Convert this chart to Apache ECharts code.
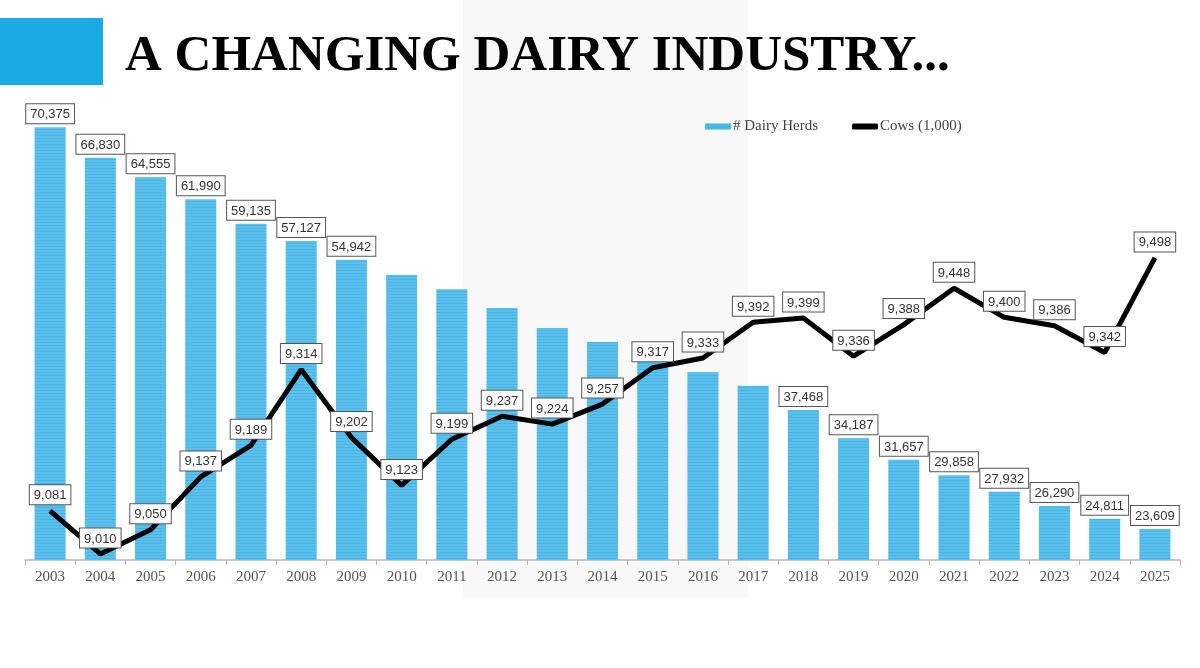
<!DOCTYPE html>
<html>
<head>
<meta charset="utf-8">
<script src="https://cdn.jsdelivr.net/npm/echarts@6/dist/echarts.min.js"></script>
<style>
html,body{margin:0;padding:0;background:#fff;}
#chart{width:1200px;height:668px;}
</style>
</head>
<body>
<div id="chart"></div>
<script>
// ---- data ----
const years = ['2003','2004','2005','2006','2007','2008','2009','2010','2011','2012','2013','2014','2015','2016','2017','2018','2019','2020','2021','2022','2023','2024','2025'];
const dairyHerds = [70375,66830,64555,61990,59135,57127,54942,53180,51510,49340,47010,45380,43500,41850,40290,37468,34187,31657,29858,27932,26290,24811,23609];
// years whose herd value is printed in the reference
const herdLabelYears = ['2003','2004','2005','2006','2007','2008','2009','2018','2019','2020','2021','2022','2023','2024','2025'];
const cows = [9081,9010,9050,9137,9189,9314,9202,9123,9199,9237,9224,9257,9317,9333,9392,9399,9336,9388,9448,9400,9386,9342,9498];
const titleText = 'A CHANGING DAIRY INDUSTRY...';
const seriesNames = ['# Dairy Herds','Cows (1,000)'];

const fmt = v => v.toLocaleString('en-US');

const boxLabel = {
  fontFamily: 'Liberation Sans, Arial, sans-serif',
  fontSize: 13,
  color: '#333',
  backgroundColor: '#fff',
  borderColor: '#555',
  borderWidth: 1,
  padding: [3, 4, 1, 4],
  lineHeight: 15
};

const barData = dairyHerds.map((v, i) => ({
  value: v,
  label: { show: herdLabelYears.includes(years[i]) }
}));

const chart = echarts.init(document.getElementById('chart'));
chart.setOption({
  backgroundColor: '#ffffff',
  animation: false,
  graphic: [
    { type: 'rect', z: -10, silent: true, shape: { x: 463, y: 0, width: 285, height: 597 }, style: { fill: '#f8f8f8' } },
    { type: 'rect', z: 10, shape: { x: 0, y: 18, width: 103, height: 67 }, style: { fill: '#1ca9e1' } },
    { type: 'text', z: 10, style: { x: 125, y: 57, text: titleText, fill: '#000', font: 'bold 51px "Liberation Serif", "Times New Roman", serif', textVerticalAlign: 'middle' } }
  ],
  legend: {
    left: 700, top: 114,
    itemWidth: 26, itemHeight: 6, itemGap: 34,
    textStyle: { fontFamily: 'Liberation Serif, serif', fontSize: 15, color: '#444', padding: [0,0,0,-3] },
    data: [
      { name: seriesNames[0], icon: 'rect', itemStyle: { color: '#4fb9e8' } },
      { name: seriesNames[1], icon: 'roundRect', itemStyle: { color: '#000' } }
    ]
  },
  grid: { left: 25, right: 20, top: 105, bottom: 108 },
  xAxis: {
    type: 'category', data: years, boundaryGap: true,
    axisLine: { lineStyle: { color: '#b5b5b5', width: 1.5 } },
    axisTick: { show: true, length: 5, lineStyle: { color: '#b5b5b5' } },
    axisLabel: { fontFamily: 'Liberation Serif, serif', fontSize: 15, color: '#555', margin: 10 }
  },
  yAxis: [
    { type: 'value', min: 20000, max: 72970, show: false, splitLine: { show: false } },
    { type: 'value', min: 9000, max: 9750, show: false, splitLine: { show: false } }
  ],
  series: [
    {
      name: seriesNames[0], type: 'bar', yAxisIndex: 0, barWidth: 31,
      data: barData,
      itemStyle: {
        color: '#5cc0ec',
        decal: { symbol: 'rect', symbolSize: 1, dashArrayX: [1, 0], dashArrayY: [1, 2], rotation: 0, color: 'rgba(40,160,215,0.35)' }
      },
      label: Object.assign({ position: 'top', distance: 4, formatter: p => fmt(p.value) }, boxLabel),
      z: 2
    },
    {
      name: seriesNames[1], type: 'line', yAxisIndex: 1,
      data: cows,
      symbol: 'circle', symbolSize: 1, showSymbol: true,
      itemStyle: { color: '#000' },
      lineStyle: { color: '#000', width: 5 },
      label: Object.assign({ show: true, position: 'top', distance: 6, formatter: p => fmt(p.value) }, boxLabel),
      z: 5
    }
  ]
});
</script>
</body>
</html>
